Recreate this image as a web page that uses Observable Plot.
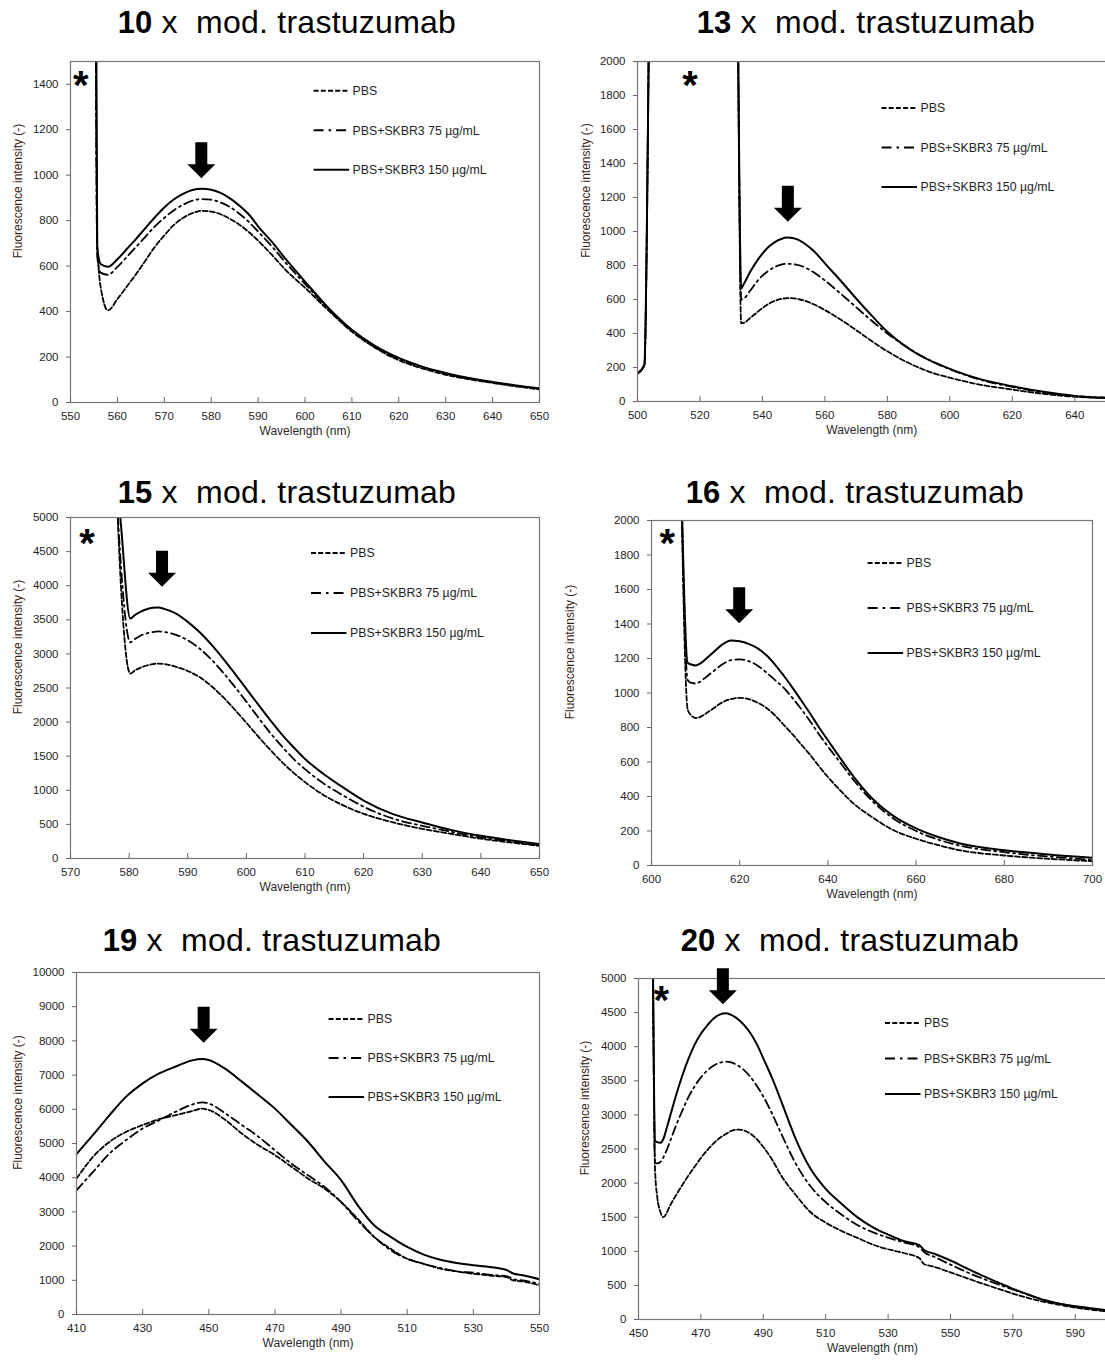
<!DOCTYPE html>
<html>
<head>
<meta charset="utf-8">
<script src="https://cdn.jsdelivr.net/npm/d3@7"></script>
<script src="https://cdn.jsdelivr.net/npm/@observablehq/plot@0.6"></script>
<style>
  html, body { margin: 0; padding: 0; background: #fff; overflow: hidden; }
  #root { position: relative; width: 1105px; height: 1361px; overflow: hidden; background: #fff;
          font-family: "Liberation Sans", Arial, Helvetica, sans-serif; }
</style>
</head>
<body>
<div id="root"></div>
<script>
// ================= DATA =================
const seriesNames = ["PBS", "PBS+SKBR3 75 µg/mL", "PBS+SKBR3 150 µg/mL"];
const panelNumbers = ["10", "13", "15", "16", "19", "20"];
const titleSuffix = " x  mod. trastuzumab";
const xAxisLabel = "Wavelength (nm)";
const yAxisLabel = "Fluorescence intensity (-)";

// --- 10 x ---
const wl10 = [555.2, 555.7, 556.5, 558, 560, 562, 564, 566, 568, 570, 572, 574, 576, 578, 580, 582, 584, 586, 588, 590, 593, 596, 600, 605, 610, 615, 620, 625, 630, 635, 640, 645, 650];
const pbs10 = [3000, 700, 500, 405, 455, 510, 565, 625, 685, 735, 780, 812, 833, 843, 840, 828, 808, 782, 750, 712, 648, 580, 505, 405, 312, 240, 186, 150, 122, 102, 86, 71, 58];
const skbr75_10 = [3000, 640, 570, 562, 597, 640, 685, 730, 775, 812, 845, 870, 888, 895, 892, 880, 860, 830, 795, 752, 685, 612, 522, 410, 315, 243, 192, 155, 127, 105, 88, 73, 60];
const skbr150_10 = [3000, 680, 608, 597, 630, 675, 720, 768, 815, 858, 893, 918, 935, 940, 936, 922, 898, 866, 828, 775, 705, 628, 532, 416, 320, 248, 196, 158, 130, 108, 90, 75, 62];
const xTicks10 = [550, 560, 570, 580, 590, 600, 610, 620, 630, 640, 650];
const yTicks10 = [0, 200, 400, 600, 800, 1000, 1200, 1400];

// --- 13 x ---
const wl13 = [500, 502.2, 504.5, 531.5, 533.2, 534, 536, 538, 540, 542, 544, 546, 548, 550, 552, 554, 556, 558, 560, 565, 570, 575, 580, 585, 590, 595, 600, 610, 620, 630, 640, 650];
const pbs13 = [165, 215, 3000, 3000, 460, 462, 490, 520, 550, 575, 592, 603, 608, 607, 600, 590, 575, 558, 538, 482, 420, 355, 295, 243, 200, 165, 140, 98, 70, 45, 28, 20];
const skbr75_13 = [165, 215, 3000, 3000, 600, 605, 650, 700, 740, 770, 792, 805, 810, 808, 800, 785, 765, 740, 712, 635, 555, 475, 400, 335, 278, 230, 190, 127, 86, 53, 32, 22];
const skbr150_13 = [165, 215, 3000, 3000, 665, 690, 760, 820, 870, 910, 938, 956, 964, 960, 946, 922, 892, 855, 812, 712, 606, 505, 410, 335, 275, 230, 192, 130, 90, 57, 33, 22];
const xTicks13 = [500, 520, 540, 560, 580, 600, 620, 640];
const yTicks13 = [0, 200, 400, 600, 800, 1000, 1200, 1400, 1600, 1800, 2000];

// --- 15 x ---
const wl15 = [577.9, 578.6, 580.2, 581, 582, 583, 584, 585, 586, 587, 588, 590, 592, 594, 596, 598, 600, 602, 604, 606, 608, 610, 613, 616, 620, 625, 630, 635, 640, 645, 650];
const pbs15 = [5300, 4000, 2710, 2760, 2800, 2830, 2850, 2858, 2852, 2835, 2810, 2750, 2660, 2530, 2370, 2185, 1990, 1790, 1600, 1420, 1260, 1120, 940, 800, 655, 530, 435, 360, 290, 235, 185];
const skbr75_15 = [5300, 4300, 3170, 3220, 3270, 3300, 3320, 3330, 3322, 3305, 3280, 3200, 3080, 2920, 2730, 2520, 2300, 2070, 1850, 1650, 1465, 1310, 1110, 950, 760, 585, 480, 390, 310, 250, 195];
const skbr150_15 = [5600, 4900, 3520, 3570, 3620, 3655, 3675, 3680, 3660, 3630, 3590, 3470, 3320, 3140, 2935, 2714, 2488, 2260, 2035, 1825, 1635, 1460, 1250, 1070, 850, 651, 529, 416, 333, 269, 211];
const xTicks15 = [570, 580, 590, 600, 610, 620, 630, 640, 650];
const yTicks15 = [0, 500, 1000, 1500, 2000, 2500, 3000, 3500, 4000, 4500, 5000];

// --- 16 x ---
const wl16 = [606.6, 608.2, 609, 610, 611, 612, 614, 616, 618, 620, 622, 624, 626, 628, 630, 632, 634, 636, 638, 640, 643, 646, 650, 655, 660, 665, 670, 680, 690, 700];
const pbs16 = [2400, 905, 870, 855, 860, 875, 910, 945, 965, 972, 965, 945, 915, 870, 815, 760, 700, 640, 575, 513, 430, 355, 281, 203, 155, 118, 88, 58, 39, 25];
const skbr75_16 = [2400, 1075, 1058, 1055, 1065, 1085, 1125, 1165, 1190, 1195, 1185, 1160, 1120, 1075, 1030, 970, 905, 835, 760, 690, 590, 490, 375, 270, 200, 150, 115, 77, 52, 33];
const skbr150_16 = [2400, 1175, 1165, 1160, 1170, 1190, 1235, 1280, 1305, 1300, 1285, 1260, 1220, 1165, 1100, 1030, 955, 880, 800, 726, 615, 510, 390, 285, 215, 165, 128, 88, 64, 45];
const xTicks16 = [600, 620, 640, 660, 680, 700];
const yTicks16 = [0, 200, 400, 600, 800, 1000, 1200, 1400, 1600, 1800, 2000];

// --- 19 x ---
const wl19 = [410, 415, 420, 425, 430, 435, 440, 445, 448, 450, 455, 460, 465, 470, 475, 480, 485, 490, 495, 500, 505, 510, 515, 520, 525, 530, 535, 540, 542, 545, 550];
const pbs19 = [3975, 4610, 5050, 5340, 5540, 5710, 5830, 5950, 6020, 5980, 5690, 5290, 4950, 4660, 4320, 3975, 3680, 3290, 2800, 2270, 1920, 1630, 1480, 1340, 1260, 1190, 1140, 1095, 1000, 965, 850];
const skbr75_19 = [3630, 4170, 4710, 5100, 5440, 5680, 5930, 6140, 6200, 6170, 5880, 5540, 5200, 4800, 4410, 4070, 3730, 3290, 2750, 2270, 1880, 1630, 1480, 1360, 1260, 1220, 1160, 1120, 1040, 995, 900];
const skbr150_19 = [4690, 5250, 5830, 6370, 6760, 7050, 7250, 7430, 7470, 7440, 7180, 6810, 6420, 6020, 5540, 5050, 4470, 3930, 3200, 2610, 2270, 1975, 1750, 1600, 1505, 1440, 1390, 1300, 1200, 1150, 1030];
const xTicks19 = [410, 430, 450, 470, 490, 510, 530, 550];
const yTicks19 = [0, 1000, 2000, 3000, 4000, 5000, 6000, 7000, 8000, 9000, 10000];

// --- 20 x ---
const wl20 = [454.6, 455.3, 456, 457, 458, 459, 460, 462, 464, 466, 468, 470, 472, 474, 476, 478, 480, 482, 484, 486, 488, 490, 493, 496, 500, 505, 510, 515, 520, 525, 530, 535, 540, 541.5, 545, 550, 555, 560, 565, 570, 575, 580, 585, 590, 595, 600];
const pbs20 = [5400, 2200, 1800, 1580, 1500, 1560, 1660, 1820, 1970, 2110, 2240, 2370, 2480, 2580, 2660, 2720, 2770, 2785, 2770, 2720, 2640, 2530, 2330, 2090, 1850, 1580, 1420, 1300, 1200, 1100, 1030, 975, 900, 815, 770, 690, 610, 530, 455, 380, 315, 260, 215, 175, 145, 120];
const skbr75_20 = [5400, 2300, 2290, 2310, 2380, 2480, 2600, 2840, 3060, 3260, 3420, 3550, 3650, 3720, 3765, 3780, 3765, 3720, 3650, 3550, 3420, 3270, 3000, 2700, 2320, 1960, 1720, 1540, 1390, 1280, 1200, 1130, 1060, 990, 915, 805, 700, 605, 520, 440, 360, 285, 230, 190, 160, 130];
const skbr150_20 = [5400, 2620, 2600, 2590, 2650, 2800, 2960, 3280, 3570, 3820, 4030, 4190, 4310, 4410, 4470, 4490, 4460, 4400, 4310, 4190, 4030, 3830, 3520, 3170, 2690, 2220, 1915, 1700, 1505, 1355, 1245, 1150, 1090, 1020, 960, 865, 755, 648, 548, 450, 365, 285, 232, 195, 165, 135];
const xTicks20 = [450, 470, 490, 510, 530, 550, 570, 590];
const yTicks20 = [0, 500, 1000, 1500, 2000, 2500, 3000, 3500, 4000, 4500, 5000];

// annotations (data units): peak arrows and asterisks
const arrowX = [578.0, 548.3, 585.7, 620.0, 448.6, 477.2];
const arrowTipY = [984, 1055, 3978, 1401, 7933, 4614];
const starX = [552.3, 517.0, 572.9, 603.7, null, 457.5];
const starY = [1430, 1908, 4736, 1913, null, 4790];

// ================= PANEL DEFINITIONS =================
const panels = [
  {num: panelNumbers[0], wl: wl10, series: [pbs10, skbr75_10, skbr150_10], xDomain: [550, 650], yDomain: [0, 1500], xTicks: xTicks10, yTicks: yTicks10},
  {num: panelNumbers[1], wl: wl13, series: [pbs13, skbr75_13, skbr150_13], xDomain: [500, 650], yDomain: [0, 2000], xTicks: xTicks13, yTicks: yTicks13},
  {num: panelNumbers[2], wl: wl15, series: [pbs15, skbr75_15, skbr150_15], xDomain: [570, 650], yDomain: [0, 5000], xTicks: xTicks15, yTicks: yTicks15},
  {num: panelNumbers[3], wl: wl16, series: [pbs16, skbr75_16, skbr150_16], xDomain: [600, 700], yDomain: [0, 2000], xTicks: xTicks16, yTicks: yTicks16},
  {num: panelNumbers[4], wl: wl19, series: [pbs19, skbr75_19, skbr150_19], xDomain: [410, 550], yDomain: [0, 10000], xTicks: xTicks19, yTicks: yTicks19},
  {num: panelNumbers[5], wl: wl20, series: [pbs20, skbr75_20, skbr150_20], xDomain: [450, 600], yDomain: [0, 5000], xTicks: xTicks20, yTicks: yTicks20}
];

// ================= LAYOUT (pixels) =================
const layout = [
  {frame: [70, 61, 539, 402],     title: [287, 33.3],  legend: [243.6, 29.7, 39.5], ylab: 52},
  {frame: [637, 61, 1105.5, 401], title: [866, 33.3],  legend: [244.5, 47, 39.5],   ylab: 51},
  {frame: [70, 517, 539, 858],    title: [287, 503.3], legend: [241, 36, 40],       ylab: 52},
  {frame: [651, 520, 1092, 865],  title: [855, 503.3], legend: [216.6, 43, 45],     ylab: 81},
  {frame: [76, 972, 539, 1314],   title: [272, 951],   legend: [252.6, 47, 39],     ylab: 58},
  {frame: [638, 978, 1106, 1319], title: [850, 951],   legend: [247, 45, 35.5],     ylab: 53}
];
const lineStyles = [
  {dash: "5,2.4", width: 1.8, legendDash: "5,2.2"},
  {dash: "9,4,2,4", width: 1.8, legendDash: "10,5,2.5,5"},
  {dash: null, width: 2.0, legendDash: null}
];
const FONT = '"Liberation Sans", Arial, Helvetica, sans-serif';

const root = document.getElementById("root");
const M = {left: 95, right: 5, top: 18, bottom: 45};

const overlayItems = [];

panels.forEach((p, i) => {
  const L = layout[i];
  const [fl, ft, fr, fb] = L.frame;
  const fw = fr - fl, fh = fb - ft;
  const lineMarks = p.series.map((vals, k) =>
    Plot.line(p.wl.map((w, j) => ({w, v: vals[j]})), {
      x: "w", y: "v", stroke: "#000",
      strokeWidth: lineStyles[k].width,
      strokeDasharray: lineStyles[k].dash,
      curve: "monotone-x", clip: true
    })
  );
  const plot = Plot.plot({
    width: fw + M.left + M.right,
    height: fh + M.top + M.bottom,
    marginLeft: M.left, marginRight: M.right, marginTop: M.top, marginBottom: M.bottom,
    style: {fontFamily: FONT, fontSize: "11.5px", color: "#1e1e1e", background: "transparent", overflow: "visible"},
    x: {domain: p.xDomain},
    y: {domain: p.yDomain},
    marks: [
      ...lineMarks,
      Plot.frame({stroke: "#777", strokeWidth: 1.2}),
      Plot.axisY({ticks: p.yTicks, tickSize: 4, tickPadding: 8, label: null, stroke: "#666", tickFormat: d => String(d)}),
      Plot.axisX({ticks: p.xTicks, tickSize: 0, tickPadding: 9, label: null, tickFormat: d => String(d)}),
      Plot.tickX(p.xTicks, {x: d => d, insetTop: fh - 5, stroke: "#666"}),
      Plot.text([yAxisLabel], {frameAnchor: "left", textAnchor: "middle", rotate: -90, dx: -L.ylab, dy: -41, fontSize: 12, fill: "#3a2418"}),
      Plot.text([xAxisLabel], {frameAnchor: "bottom", textAnchor: "middle", dy: 32, fontSize: 12, fill: "#2a2a2a"})
    ]
  });
  plot.style.position = "absolute";
  const sl = fl - M.left, st = ft - M.top;
  plot.style.left = sl + "px";
  plot.style.top = st + "px";
  root.appendChild(plot);
  const sx = plot.scale("x"), sy = plot.scale("y");
  overlayItems.push({
    i,
    arrow: [sl + sx.apply(arrowX[i]), st + sy.apply(arrowTipY[i])],
    star: starX[i] == null ? null : [sl + sx.apply(starX[i]), st + sy.apply(starY[i])]
  });
});

// ================= OVERLAY: titles, legends, arrows, asterisks =================
const svg = d3.select("#root").append("svg")
  .attr("width", 1105).attr("height", 1361)
  .style("position", "absolute").style("left", "0px").style("top", "0px")
  .style("font-family", FONT);

panels.forEach((p, i) => {
  const L = layout[i];
  const [fl, ft] = L.frame;
  // title
  const t = svg.append("text")
    .attr("x", L.title[0]).attr("y", L.title[1])
    .attr("text-anchor", "middle")
    .style("white-space", "pre")
    .attr("fill", "#000");
  t.append("tspan").attr("font-weight", "bold").attr("font-size", 31).text(p.num);
  t.append("tspan").attr("font-size", 32).attr("letter-spacing", 0.25).text(titleSuffix);
  // legend
  const [lx, ly, gap] = L.legend;
  seriesNames.forEach((name, k) => {
    const y = ft + ly + k * gap;
    svg.append("line")
      .attr("x1", fl + lx).attr("x2", fl + lx + 35.5)
      .attr("y1", y).attr("y2", y)
      .attr("stroke", "#000").attr("stroke-width", 2)
      .attr("stroke-dasharray", lineStyles[k].legendDash);
    svg.append("text")
      .attr("x", fl + lx + 39).attr("y", y + 4.4)
      .attr("font-size", 12.3).attr("fill", "#1e1e1e")
      .text(name);
  });
});

overlayItems.forEach(o => {
  const [cx, ty] = o.arrow;
  svg.append("path")
    .attr("d", `M${cx - 6},${ty - 36} L${cx + 6},${ty - 36} L${cx + 6},${ty - 14} L${cx + 14},${ty - 14} L${cx},${ty} L${cx - 14},${ty - 14} L${cx - 6},${ty - 14} Z`)
    .attr("fill", "#000");
  if (o.star) {
    svg.append("text")
      .attr("x", o.star[0]).attr("y", o.star[1] + 22)
      .attr("text-anchor", "middle")
      .attr("font-size", 40).attr("font-weight", "bold")
      .attr("fill", "#000")
      .text("*");
  }
});
</script>
</body>
</html>
